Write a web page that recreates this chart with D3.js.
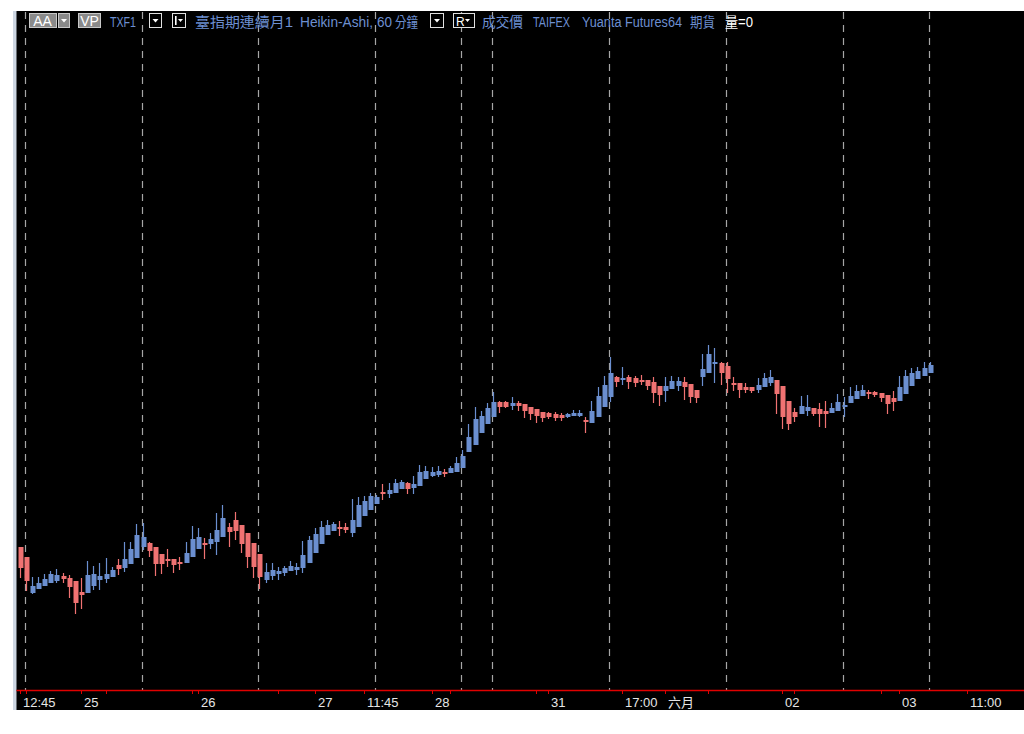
<!DOCTYPE html>
<html><head><meta charset="utf-8">
<script src="https://cdn.jsdelivr.net/npm/d3@7"></script>
<style>html,body{margin:0;padding:0;background:#fff;overflow:hidden}</style>
</head><body><svg id="c" width="1024" height="734"></svg>
<script>
// Heikin-Ashi 60-min bars, TXF1
const opens = [10853,10843,10807,10811,10814,10817,10819,10824,10822,10819,10808,10807,10814,10820,10821,10823,10835,10832,10836,10842,
10853,10857,10853,10846,10841,10841,10838,10837,10843,10851,10857,10856,10858,10863,10873,10880,10875,10867,10857,10846,
10820,10824,10826,10827,10829,10830,10832,10837,10847,10856,10865,10869,10873,10873,10867,10873,10884,10890,10896,10908,
10906,10907,10911,10917,10912,10914,10921,10924,10925,10928,10927,10928,10932,10948,10955,10967,10976,10983,10998,10998,
10994,10997,10996,10993,10991,10988,10987,10986,10985,10983,10984,10984,10980,10977,10983,10993,11003,11023,11020,11023,
11022,11020,11020,11018,11014,11009,11011,11014,11018,11016,11010,11023,11027,11037,11037,11034,11017,11017,11013,11013,
11010,11013,11017,11020,11014,10999,10988,10986,10989,10992,10991,10989,10987,10989,10993,10997,11001,11004,11008,11008,
11007,11005,11002,10999,11006,11014,11021,11024,11027];
const highs = [10853,10843,10823,10823,10826,10829,10831,10827,10825,10819,10822,10839,10834,10837,10842,10833,10841,10858,10858,10876,
10877,10858,10853,10846,10851,10841,10843,10858,10874,10872,10862,10867,10887,10895,10877,10888,10875,10867,10857,10846,
10837,10837,10833,10834,10839,10837,10859,10864,10872,10879,10880,10878,10879,10877,10901,10903,10904,10907,10905,10916,
10917,10921,10920,10918,10924,10935,10934,10933,10934,10931,10934,10943,10950,10976,10993,10989,10997,11008,10999,10999,
11003,10999,10996,10993,10991,10988,10988,10988,10987,10987,10990,10990,10983,10999,11013,11024,11043,11024,11033,11025,
11024,11025,11020,11023,11014,11023,11024,11023,11023,11016,11010,11046,11055,11052,11038,11038,11023,11017,11017,11013,
11022,11027,11030,11020,11014,10999,10992,11004,11005,10992,10997,10999,10997,11006,11003,11013,11015,11015,11010,11009,
11007,11005,11009,11024,11030,11032,11033,11038,11038];
const lows = [10822,10809,10806,10811,10814,10817,10817,10817,10802,10786,10791,10807,10810,10810,10817,10823,10825,10828,10836,10842,
10850,10843,10824,10826,10833,10827,10830,10837,10843,10851,10841,10851,10845,10863,10853,10860,10847,10832,10822,10811,
10817,10820,10820,10824,10829,10825,10827,10837,10847,10856,10865,10869,10864,10867,10863,10873,10884,10890,10896,10900,
10902,10907,10911,10906,10906,10914,10921,10923,10923,10923,10927,10928,10932,10948,10955,10967,10976,10983,10987,10992,
10990,10989,10982,10980,10977,10978,10981,10979,10979,10982,10984,10983,10967,10977,10983,10993,10998,11013,11015,11011,
11013,11015,11010,10997,10994,10998,11011,11009,11000,10997,10997,11014,11027,11017,11015,11007,11009,11002,11007,11007,
11007,11013,11014,10986,10971,10970,10978,10986,10984,10984,10973,10972,10987,10989,10983,10997,11001,11004,11001,11003,
10998,10986,10989,10999,11006,11014,11021,11024,11027];
const closes = [10832,10819,10814,10817,10821,10826,10825,10821,10813,10797,10805,10825,10826,10824,10826,10830,10831,10841,10851,10865,
10863,10849,10836,10836,10839,10835,10836,10847,10861,10863,10855,10861,10870,10882,10868,10869,10856,10843,10833,10823,
10828,10830,10829,10832,10834,10833,10845,10860,10866,10873,10875,10876,10871,10870,10880,10895,10899,10904,10903,10906,
10910,10917,10918,10911,10916,10928,10929,10928,10929,10927,10932,10937,10944,10963,10981,10984,10992,10998,10993,10993,
10997,10994,10989,10986,10984,10982,10983,10982,10982,10986,10987,10987,10978,10989,11004,11015,11027,11018,11022,11018,
11017,11018,11014,11007,11005,11014,11019,11019,11013,11003,11002,11031,11046,11038,11027,11021,11015,11010,11010,11009,
11015,11022,11023,11006,10983,10976,10983,10994,10993,10986,10986,10986,10992,10998,10995,11004,11009,11010,11006,11005,
11002,10996,10998,11013,11024,11027,11029,11032,11035];

// x-axis ticks (bar index -> label)
const tickIndex  = [0, 10, 29, 48, 56, 67, 86, 98, 105, 124, 143, 154];
const tickLabels = ["12:45","25","26","27","11:45","28","31","17:00","六月","02","03","11:00"];
const minorTickIndex = [1, 14, 28, 42, 70, 84, 112, 126, 140];
// session separator lines (bar index)
const sessionIndex = [1, 20, 39, 58, 72, 77, 96, 115, 134, 148];

const bars = opens.map((o,i)=>({i, o, h:highs[i], l:lows[i], c:closes[i]}));

const svg = d3.select("#c");
const plotTop = 11, plotBottom = 710, plotLeft = 16.5, axisY = 690;

svg.append("rect").attr("x",0).attr("y",0).attr("width",1024).attr("height",734).attr("fill","#fff");
svg.append("rect").attr("x",13).attr("y",plotTop).attr("width",4).attr("height",plotBottom-plotTop).attr("fill","#cdd6e2");
svg.append("rect").attr("x",plotLeft).attr("y",plotTop).attr("width",1024-plotLeft).attr("height",plotBottom-plotTop).attr("fill","#000");

const x = d3.scaleLinear().domain([0,148]).range([19.5, 929.7]);
const y = d3.scaleLinear().domain([10700, 11400]).range([700, 0]);

// session dashed lines
svg.append("g").selectAll("line").data(sessionIndex).join("line")
  .attr("x1",d=>Math.round(x(d))-0.5).attr("x2",d=>Math.round(x(d))-0.5)
  .attr("y1",plotTop+1).attr("y2",axisY)
  .attr("stroke","#a6a6a6").attr("stroke-width",1.2).attr("stroke-dasharray","7,6");

// candles
const blue = "#6b8fd0", red = "#f07272";
const g = svg.append("g");
g.selectAll("line.wick").data(bars).join("line").attr("class","wick")
  .attr("x1",d=>Math.round(x(d.i))+0.5).attr("x2",d=>Math.round(x(d.i))+0.5)
  .attr("y1",d=>y(d.h)).attr("y2",d=>y(d.l))
  .attr("stroke",d=>d.c>=d.o?blue:red).attr("stroke-width",1.2);
g.selectAll("rect.body").data(bars).join("rect").attr("class","body")
  .attr("x",d=>Math.round(x(d.i))-1.5).attr("width",5)
  .attr("y",d=>y(Math.max(d.o,d.c)))
  .attr("height",d=>Math.max(2, y(Math.min(d.o,d.c))-y(Math.max(d.o,d.c))))
  .attr("fill",d=>d.c>=d.o?blue:red);

// axis
svg.append("line").attr("x1",plotLeft).attr("x2",1024).attr("y1",axisY+0.5).attr("y2",axisY+0.5)
  .attr("stroke","#e00000").attr("stroke-width",1.6);
const allTicks = tickIndex.concat(minorTickIndex);
svg.append("g").selectAll("line").data(allTicks).join("line")
  .attr("x1",d=>Math.round(x(d))+0.5).attr("x2",d=>Math.round(x(d))+0.5)
  .attr("y1",axisY).attr("y2",axisY+4).attr("stroke","#e00000").attr("stroke-width",1);
svg.append("g").selectAll("text").data(tickIndex).join("text")
  .attr("x",d=>Math.round(x(d))+3).attr("y",706.5)
  .attr("font-family","'Liberation Sans', Arial, 'Noto Sans CJK TC', sans-serif").attr("font-size",13)
  .attr("fill","#e6e6e6").text((d,k)=>tickLabels[k]);

// header
const hf = "'Liberation Sans', Arial, 'Noto Sans CJK TC', sans-serif";
const hb = "#6d8fd1";
function box(x0,w,fill,stroke){ svg.append("rect").attr("x",x0+0.5).attr("y",13.5).attr("width",w).attr("height",14).attr("fill",fill).attr("stroke",stroke).attr("stroke-width",1); }
function tri(cx){ svg.append("path").attr("d",`M${cx-3},19 L${cx+3},19 L${cx},22.5 Z`).attr("fill","#fff"); }
box(29,27,"#8a8a8a","#c8c8c8");
svg.append("text").attr("x",42.5).attr("y",25.5).attr("text-anchor","middle").attr("font-family",hf).attr("font-size",14).attr("fill","#fff").text("AA");
box(58,11,"#8a8a8a","#c8c8c8"); tri(64);
box(78,22,"#8a8a8a","#c8c8c8");
svg.append("text").attr("x",89.5).attr("y",25.5).attr("text-anchor","middle").attr("font-family",hf).attr("font-size",14).attr("fill","#fff").text("VP");
box(149,12,"#000","#e0e0e0"); tri(155.5);
box(172,13,"#000","#e0e0e0");
svg.append("rect").attr("x",175).attr("y",16).attr("width",1.6).attr("height",9).attr("fill","#fff");
svg.append("path").attr("d","M178,19 L183,19 L180.5,22 Z").attr("fill","#fff");
box(430,13,"#000","#e0e0e0"); tri(437);
box(453,21,"#000","#e0e0e0");
svg.append("text").attr("x",456).attr("y",25.5).attr("font-family",hf).attr("font-size",12).attr("fill","#fff").text("R");
svg.append("path").attr("d","M465,19 L470,19 L467.5,22 Z").attr("fill","#fff");

const headerParts = [
  {t:"TXF1", x:110, w:26, c:hb},
  {t:"臺指期連續月1", x:195, w:98, c:hb},
  {t:"Heikin-Ashi,", x:300, w:73, c:hb},
  {t:"60", x:377, w:15, c:hb},
  {t:"分鐘", x:395, w:23, c:hb},
  {t:"成交價", x:482, w:41, c:hb},
  {t:"TAIFEX", x:533, w:37, c:hb},
  {t:"Yuanta Futures64", x:582, w:100, c:hb},
  {t:"期貨", x:690, w:25, c:hb},
  {t:"量=0", x:725, w:28, c:"#ffffff"}
];
svg.append("g").selectAll("text").data(headerParts).join("text")
  .attr("x",d=>d.x).attr("y",26.5).attr("font-family",hf).attr("font-size",14)
  .attr("fill",d=>d.c).attr("textLength",d=>d.w).attr("lengthAdjust","spacingAndGlyphs")
  .text(d=>d.t);
</script></body></html>
